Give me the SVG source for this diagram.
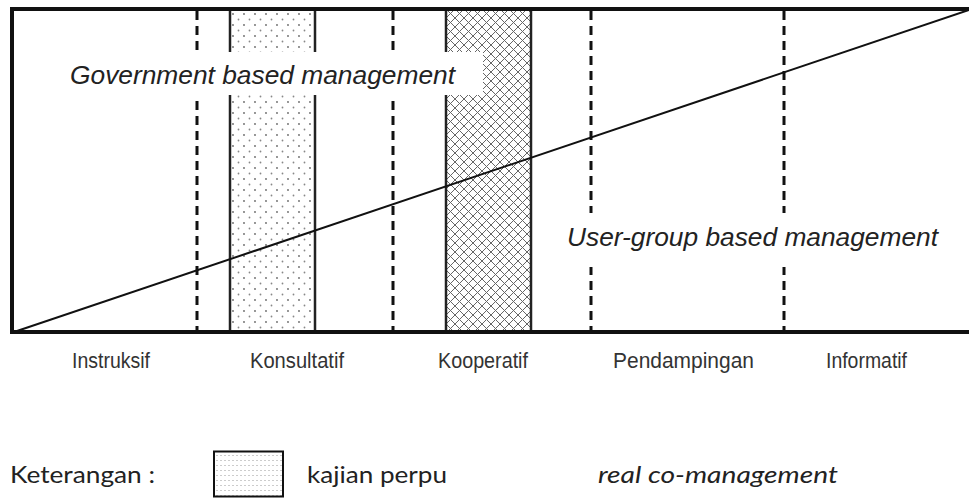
<svg xmlns="http://www.w3.org/2000/svg" width="969" height="498" viewBox="0 0 969 498">
  <style>
    .frame { stroke: #111; stroke-width: 4; fill: none; }
    .dash { stroke: #111; stroke-width: 3; stroke-dasharray: 9 6; fill: none; }
    .edge { stroke: #222; stroke-width: 2.5; fill: none; }
    .diag { stroke: #111; stroke-width: 2; fill: none; }
    .big { font-family: "Liberation Sans", Arial, sans-serif; font-style: italic; font-size: 25px; fill: #222; }
    .axis { font-family: "Liberation Sans", Arial, sans-serif; font-size: 22px; fill: #333; }
    .legend { font-family: Lato, "Open Sans", sans-serif; font-size: 23px; fill: #222; }
  </style>
  <defs>
    <pattern id="dots" x="230" y="0" width="11" height="11" patternUnits="userSpaceOnUse">
      <circle cx="3" cy="3" r="0.9" fill="#666"/>
      <circle cx="8.5" cy="8.5" r="0.9" fill="#888"/>
    </pattern>
    <pattern id="hatch" x="446" y="0" width="9" height="9" patternUnits="userSpaceOnUse">
      <path d="M0,0 L9,9 M9,0 L0,9" stroke="#666" stroke-width="1" fill="none"/>
    </pattern>
    <pattern id="fine" x="215" y="453" width="4" height="5" patternUnits="userSpaceOnUse">
      <circle cx="2" cy="2.5" r="0.5" fill="#777"/>
    </pattern>
  </defs>

  <rect width="969" height="498" fill="#fff"/>

  <g id="bands">
    <rect x="230" y="11" width="85" height="319" fill="url(#dots)"/>
    <rect x="446" y="11" width="85" height="319" fill="url(#hatch)"/>
    <line class="edge" x1="230" y1="11" x2="230" y2="330"/>
    <line class="edge" x1="315" y1="11" x2="315" y2="330"/>
    <line class="edge" x1="446" y1="11" x2="446" y2="330"/>
    <line class="edge" x1="531" y1="11" x2="531" y2="330"/>
  </g>

  <g id="dividers">
    <line class="dash" x1="197" y1="11" x2="197" y2="330"/>
    <line class="dash" x1="393" y1="11" x2="393" y2="330"/>
    <line class="dash" x1="591" y1="11" x2="591" y2="330"/>
    <line class="dash" x1="784" y1="11" x2="784" y2="330"/>
  </g>

  <g id="connectors">
    <line class="diag" x1="14" y1="332" x2="969" y2="10"/>
  </g>

  <g id="frame">
    <line class="frame" x1="12" y1="9" x2="969" y2="9"/>
    <line class="frame" x1="12" y1="332" x2="969" y2="332"/>
    <line class="frame" x1="12" y1="7" x2="12" y2="334"/>
  </g>

  <g id="government">
    <rect x="62" y="52" width="421" height="43" fill="#fff"/>
    <text class="big" x="70" y="84" textLength="385" lengthAdjust="spacingAndGlyphs">Government based management</text>
  </g>

  <g id="usergroup">
    <rect x="556" y="213" width="394" height="54" fill="#fff"/>
    <text class="big" x="567" y="246" textLength="371" lengthAdjust="spacingAndGlyphs">User-group based management</text>
  </g>

  <g id="axis-labels">
    <text class="axis" x="72" y="368" textLength="78" lengthAdjust="spacingAndGlyphs">Instruksif</text>
    <text class="axis" x="250" y="368" textLength="94" lengthAdjust="spacingAndGlyphs">Konsultatif</text>
    <text class="axis" x="438" y="368" textLength="90" lengthAdjust="spacingAndGlyphs">Kooperatif</text>
    <text class="axis" x="613" y="368" textLength="141" lengthAdjust="spacingAndGlyphs">Pendampingan</text>
    <text class="axis" x="826" y="368" textLength="81" lengthAdjust="spacingAndGlyphs">Informatif</text>
  </g>

  <g id="legend">
    <text class="legend" x="10" y="483" textLength="145" lengthAdjust="spacingAndGlyphs">Keterangan :</text>
    <rect x="214" y="451.5" width="69" height="45" fill="url(#fine)" stroke="#111" stroke-width="2"/>
    <text class="legend" x="307" y="483" textLength="140" lengthAdjust="spacingAndGlyphs">kajian perpu</text>
    <text class="legend" x="598" y="483" font-style="italic" textLength="240" lengthAdjust="spacingAndGlyphs">real co-management</text>
  </g>
</svg>
